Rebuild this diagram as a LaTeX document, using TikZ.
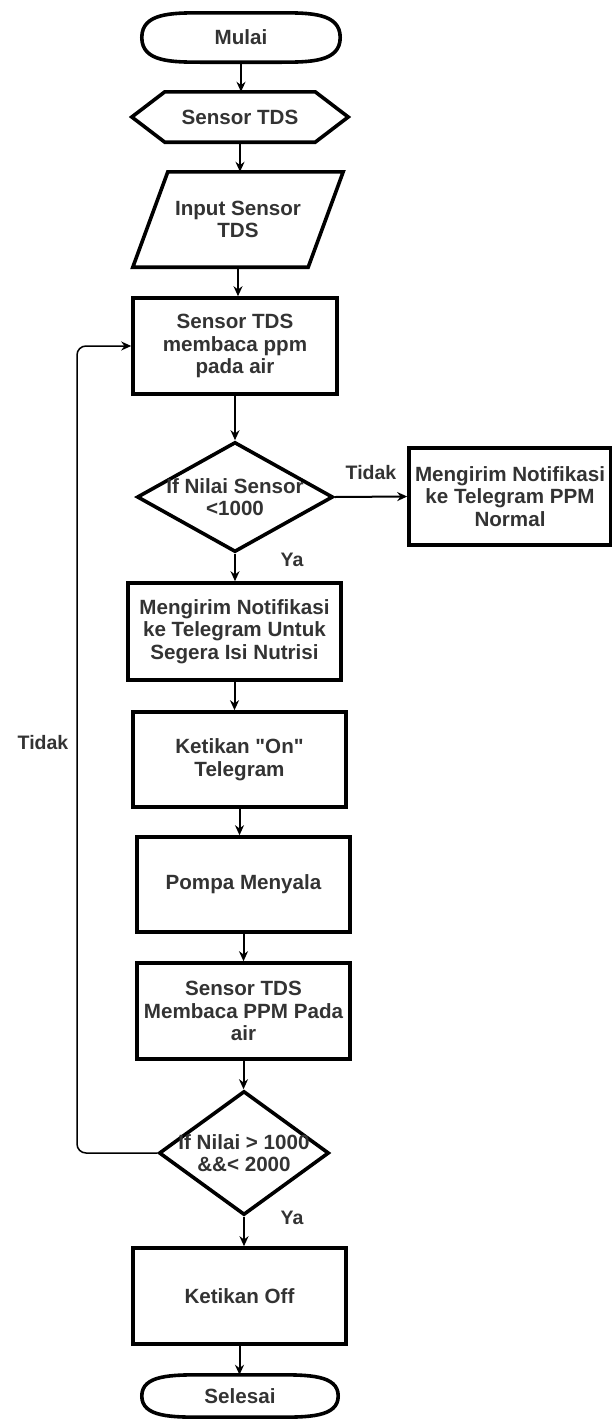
\documentclass[tikz,border=0pt]{standalone}
\usepackage{fontspec}
\setmainfont{Liberation Sans}
\usepackage{tikz}
\usetikzlibrary{arrows.meta,
shapes.geometric,
calc
}
\tikzset{>={Stealth[length=10pt, width=9pt]}}
\tikzset{
    flowtext/.style={font=\fontsize{20.6}{22.5}\selectfont\bfseries, text=black!80, align=center},
    procbox/.style={flowtext, draw, line width=3.6pt, rectangle, inner sep=0pt},
    plainbox/.style={flowtext, rectangle, inner sep=0pt},
    decbox/.style={draw, line width=3.6pt, diamond, inner sep=0pt},
    outline/.style={draw, line width=3.6pt},
    flowarrow/.style={->, line width=2pt},
    loopline/.style={->, line width=1.5pt, rounded corners=9pt},
    edgelabel/.style={font=\fontsize{19.5}{22}\selectfont\bfseries, text=black!80}
}
% start / end shape drawn round a plain node
\newcommand{\drawterminal}[1]{%
    \draw[outline] (#1.west) .. controls (#1.north west) and ([xshift=30pt]#1.north west) .. ([xshift=62pt]#1.north west)
        -- ([xshift=-62pt]#1.north east) .. controls ([xshift=-30pt]#1.north east) and (#1.north east) .. (#1.east)
        .. controls (#1.south east) and ([xshift=-30pt]#1.south east) .. ([xshift=-62pt]#1.south east)
        -- ([xshift=62pt]#1.south west) .. controls ([xshift=30pt]#1.south west) and (#1.south west) .. cycle;}

\begin{document}
\begin{tikzpicture}[x=1pt, y=-1pt]
        \useasboundingbox (0, 0) rectangle (612, 1419);
        % main column
        \node[plainbox, minimum width=198pt, minimum height=49pt] (mulai) at (241, 37.5) {Mulai};
        \drawterminal{mulai}
        \node[plainbox, minimum width=216pt, minimum height=50pt] (sensor) at (240, 117) {Sensor TDS};
        \draw[outline] (sensor.west) -- ([xshift=33pt]sensor.north west) -- ([xshift=-33pt]sensor.north east)
            -- (sensor.east) -- ([xshift=-33pt]sensor.south east) -- ([xshift=33pt]sensor.south west) -- cycle;
        \node[plainbox, minimum width=210pt, minimum height=95pt] (input) at (238, 219.5) {Input Sensor\\TDS};
        \draw[outline] ([xshift=35pt]input.north west) -- (input.north east)
            -- ([xshift=-35pt]input.south east) -- (input.south west) -- cycle;
        \node[procbox, minimum width=204pt, minimum height=96pt] (baca1) at (235, 346) {Sensor TDS\\membaca ppm\\pada air};
        \node[decbox, minimum width=196pt, minimum height=110pt,
            label={[flowtext]center:{If Nilai Sensor\\<1000}}] (cek1) at (235, 497) {};
        \node[procbox, minimum width=202pt, minimum height=97pt] (normal) at (510, 496.5) {Mengirim Notifikasi\\ke Telegram PPM\\Normal};
        \node[procbox, minimum width=213pt, minimum height=97pt] (notif) at (234.5, 631.5) {Mengirim Notifikasi\\ke Telegram Untuk\\Segera Isi Nutrisi};
        \node[procbox, minimum width=213pt, minimum height=95pt] (ketikon) at (239.5, 759.5) {Ketikan \textquotedbl On\textquotedbl\\Telegram};
        \node[procbox, minimum width=213pt, minimum height=95pt] (pompa) at (243.5, 884.5) {Pompa Menyala};
        \node[procbox, minimum width=213pt, minimum height=96pt] (baca2) at (243.5, 1011) {Sensor TDS\\Membaca PPM Pada\\air};
        \node[decbox, minimum width=170pt, minimum height=124pt,
            label={[flowtext]center:{If Nilai > 1000\\\&\&< 2000}}] (cek2) at (244, 1153) {};
        \node[procbox, minimum width=213pt, minimum height=96pt] (ketikoff) at (239.5, 1296) {Ketikan Off};
        \node[plainbox, minimum width=196pt, minimum height=42pt] (selesai) at (240, 1396) {Selesai};
        \drawterminal{selesai}
        % connectors
        \draw[flowarrow] (mulai.south) -- (mulai.south |- sensor.north);
        \draw[flowarrow] (sensor.south) -- (sensor.south |- input.north);
        \draw[flowarrow] (input.south) -- (input.south |- baca1.north);
        \draw[flowarrow] (baca1.south) -- (cek1.north);
        \draw[flowarrow] (cek1.east) -- (normal.west);
        \draw[flowarrow] (cek1.south) -- (cek1.south |- notif.north);
        \draw[flowarrow] (notif.south) -- (notif.south |- ketikon.north);
        \draw[flowarrow] (ketikon.south) -- (ketikon.south |- pompa.north);
        \draw[flowarrow] (pompa.south) -- (pompa.south |- baca2.north);
        \draw[flowarrow] (baca2.south) -- (baca2.south |- cek2.north);
        \draw[flowarrow] (cek2.south) -- (cek2.south |- ketikoff.north);
        \draw[flowarrow] (ketikoff.south) -- (ketikoff.south |- selesai.north);
        \coordinate (loopcorner) at (77, 1153);
        \draw[loopline] (cek2.west) -- (loopcorner) |- (baca1.west);
        % labels
        \node[edgelabel] (tidak1) at (371, 473) {Tidak};
        \node[edgelabel] (ya1) at (292, 560) {Ya};
        \node[edgelabel] (tidak2) at (43, 743) {Tidak};
        \node[edgelabel] (ya2) at (292, 1218) {Ya};
    \end{tikzpicture}
\end{document}
